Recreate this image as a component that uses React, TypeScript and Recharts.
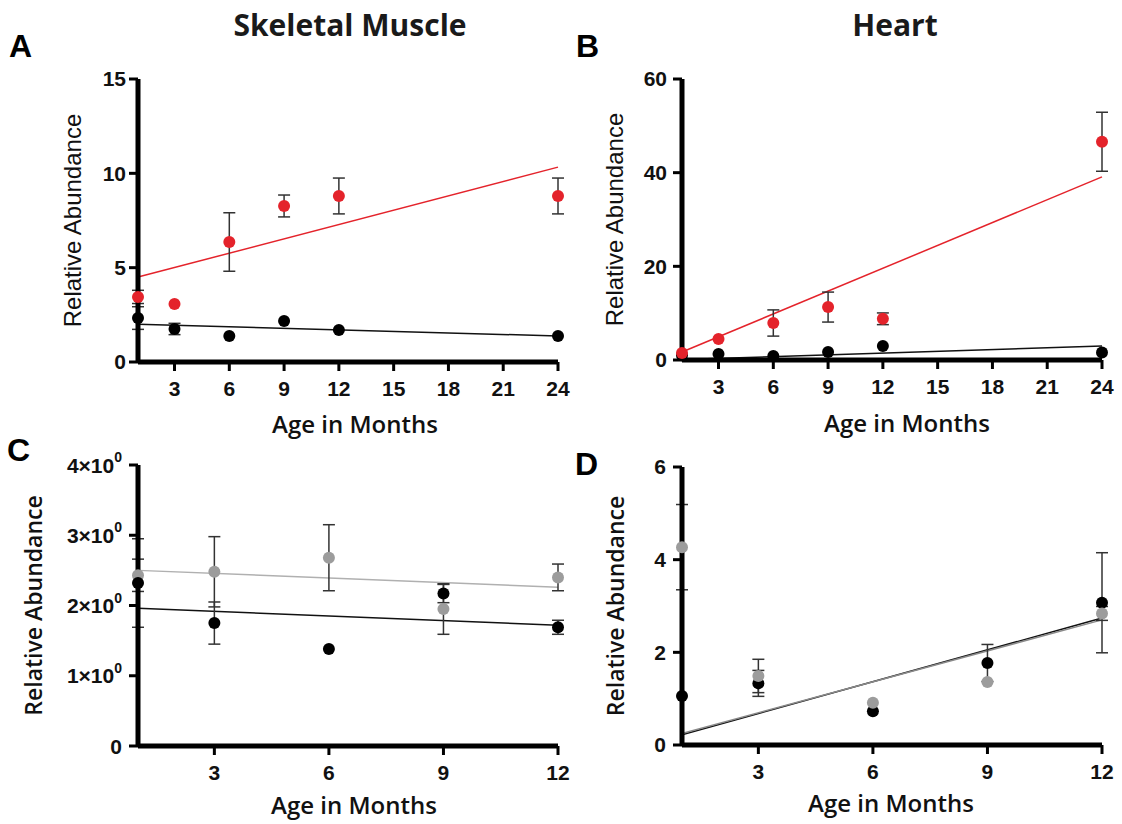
import React from 'react'
import { ComposedChart, Scatter, Line, XAxis, YAxis, ErrorBar } from 'recharts'

const RED = '#e4232b'
const GRAY = '#9c9c9c'
const ERR = '#333333'

// A: skeletal muscle, 1-24 months
const monthsA = [1, 3, 6, 9, 12, 24]
const redA = [3.45, 3.07, 6.36, 8.27, 8.8, 8.8]
const redErrA = [0.35, 0, 1.55, 0.58, 0.95, 0.95]
const blackA = [2.33, 1.75, 1.38, 2.17, 1.7, 1.38]
const blackErrA = [0.6, 0.3, 0, 0, 0, 0]
const fitRedA = [4.5, 10.33]
const fitBlackA = [2.0, 1.38]

// B: heart, 1-24 months
const monthsB = [1, 3, 6, 9, 12, 24]
const redB = [1.5, 4.5, 7.9, 11.3, 8.8, 46.6]
const redErrB = [0, 0, 2.8, 3.2, 1.25, 6.3]
const blackB = [1.0, 1.3, 0.85, 1.7, 3.0, 1.6]
const blackErrB = [0, 0, 0, 0, 0, 0]
const fitRedB = [1.7, 39.1]
const fitBlackB = [0.1, 3.0]

// C: skeletal muscle, 1-12 months
const monthsC = [1, 3, 6, 9, 12]
const grayC = [2.43, 2.48, 2.68, 1.95, 2.4]
const grayErrC = [0.23, 0.5, 0.47, 0.36, 0.19]
const blackC = [2.32, 1.75, 1.38, 2.17, 1.69]
const blackErrC = [0.63, 0.3, 0, 0.13, 0.1]
const fitGrayC = [2.5, 2.26]
const fitBlackC = [1.96, 1.72]

// D: heart, 1-12 months
const monthsD = [1, 3, 6, 9, 12]
const grayD = [4.27, 1.49, 0.91, 1.36, 2.84]
const grayErrD = [0.92, 0.36, 0, 0, 0.15]
const blackD = [1.06, 1.33, 0.73, 1.77, 3.07]
const blackErrD = [0, 0.28, 0, 0.4, 1.08]
const fitBlackD = [0.22, 2.74]
const fitGrayD = [0.25, 2.7]

const ticksLong = [3, 6, 9, 12, 15, 18, 21, 24]
const ticksShort = [3, 6, 9, 12]
const yTicksA = [0, 5, 10, 15]
const yTicksB = [0, 20, 40, 60]
const yTicksC = [0, 1, 2, 3, 4]
const yTicksD = [0, 2, 4, 6]

const points = (xs: number[], ys: number[], errs: number[]) =>
  xs.map((x, i) => ({ x, y: ys[i], err: errs[i] }))

const fit = (x0: number, x1: number, ys: number[]) => [
  { x: x0, y: ys[0] },
  { x: x1, y: ys[1] },
]

const tickFont = {
  fill: '#111',
  fontSize: 21,
  fontWeight: 700,
  fontFamily: '"Liberation Sans", Arial, sans-serif',
}

const dot = (color: string) => (p: any) => <circle cx={p.cx} cy={p.cy} r={6} fill={color} />

const SciTick = (props: any) => {
  const { x, y, payload } = props
  const v = payload.value
  return (
    <text x={x} y={y} textAnchor="end" dominantBaseline="central" style={tickFont}>
      {v === 0 ? (
        '0'
      ) : (
        <>
          {v}×10
          <tspan fontSize={14} dy={-8}>
            0
          </tspan>
        </>
      )}
    </text>
  )
}

type Series = { pts: { x: number; y: number; err: number }[]; color: string }
type FitLine = { pts: { x: number; y: number }[]; color: string }

interface PanelProps {
  left: number
  top: number
  width: number
  height: number
  margin: { top: number; right: number; bottom: number; left: number }
  yWidth: number
  xHeight: number
  xDomain: number[]
  xTicks: number[]
  yDomain: number[]
  yTicks: number[]
  series: Series[]
  fits: FitLine[]
  yLabelX: number
  yLabelFont: React.CSSProperties
  xLabelDx: number
  xLabelDy: number
  yTickMargin: number
  sci?: boolean
}

function Panel(p: PanelProps) {
  return (
    <div style={{ position: 'absolute', left: p.left, top: p.top }}>
      <ComposedChart width={p.width} height={p.height} margin={p.margin}>
        <XAxis
          type="number"
          dataKey="x"
          domain={p.xDomain}
          ticks={p.xTicks}
          interval={0}
          height={p.xHeight}
          tick={tickFont}
          tickSize={9}
          tickMargin={10}
          axisLine={{ stroke: '#000', strokeWidth: 5 }}
          tickLine={{ stroke: '#000', strokeWidth: 3 }}
          label={{
            content: ({ viewBox }: any) => (
              <text
                x={viewBox.x + viewBox.width / 2 + p.xLabelDx}
                y={viewBox.y + p.xLabelDy}
                textAnchor="middle"
                style={{
                  fontFamily: '"Open Sans", sans-serif',
                  fontWeight: 600,
                  fontSize: 24,
                  fill: '#111',
                }}
              >
                Age in Months
              </text>
            ),
          }}
        />
        <YAxis
          type="number"
          dataKey="y"
          domain={p.yDomain}
          ticks={p.yTicks}
          interval={0}
          width={p.yWidth}
          tick={p.sci ? <SciTick /> : tickFont}
          tickSize={9}
          tickMargin={p.yTickMargin}
          axisLine={{ stroke: '#000', strokeWidth: 5 }}
          tickLine={{ stroke: '#000', strokeWidth: 3 }}
          label={{
            content: ({ viewBox }: any) => {
              const cy = viewBox.y + viewBox.height / 2
              return (
                <text
                  x={p.yLabelX}
                  y={cy}
                  transform={`rotate(-90, ${p.yLabelX}, ${cy})`}
                  textAnchor="middle"
                  dominantBaseline="central"
                  style={{ fill: '#111', ...p.yLabelFont }}
                >
                  Relative Abundance
                </text>
              )
            },
          }}
        />
        {p.fits.map((f, i) => (
          <Line
            key={'f' + i}
            data={f.pts}
            dataKey="y"
            type="linear"
            stroke={f.color}
            strokeWidth={1.5}
            dot={false}
            activeDot={false}
            isAnimationActive={false}
          />
        ))}
        {p.series.map((s, i) => (
          <Scatter
            key={'s' + i}
            data={s.pts}
            dataKey="y"
            fill={s.color}
            shape={dot(s.color)}
            isAnimationActive={false}
          >
            <ErrorBar dataKey="err" direction="y" width={6} stroke={ERR} strokeWidth={1.5} />
          </Scatter>
        ))}
      </ComposedChart>
    </div>
  )
}

const arialLabel: React.CSSProperties = {
  fontFamily: '"Liberation Sans", Arial, sans-serif',
  fontSize: 24,
}
const openLabel: React.CSSProperties = {
  fontFamily: '"Open Sans", sans-serif',
  fontWeight: 600,
  fontSize: 23,
}

export default function App() {
  const letter = {
    fontFamily: '"Liberation Sans", Arial, sans-serif',
    fontWeight: 700,
    fontSize: 32,
    fill: '#000',
  }
  const title = {
    fontFamily: '"Open Sans", sans-serif',
    fontWeight: 700,
    fontSize: 30,
    fill: '#1a1a1a',
  }
  return (
    <div
      style={{
        position: 'absolute',
        left: 0,
        top: 0,
        width: 1122,
        height: 824,
        background: '#fff',
        overflow: 'hidden',
      }}
    >
      <Panel
        left={0}
        top={0}
        width={600}
        height={450}
        margin={{ top: 79, right: 42, bottom: 0, left: 0 }}
        yWidth={138}
        xHeight={88}
        xDomain={[1, 24]}
        xTicks={ticksLong}
        yDomain={[0, 15]}
        yTicks={yTicksA}
        yTickMargin={3}
        fits={[
          { pts: fit(1, 24, fitRedA), color: RED },
          { pts: fit(1, 24, fitBlackA), color: '#111' },
        ]}
        series={[
          { pts: points(monthsA, blackA, blackErrA), color: '#000' },
          { pts: points(monthsA, redA, redErrA), color: RED },
        ]}
        yLabelX={72}
        yLabelFont={arialLabel}
        xLabelDx={7}
        xLabelDy={71}
      />
      <Panel
        left={560}
        top={0}
        width={562}
        height={450}
        margin={{ top: 79, right: 20, bottom: 0, left: 0 }}
        yWidth={122}
        xHeight={90}
        xDomain={[1, 24]}
        xTicks={ticksLong}
        yDomain={[0, 60]}
        yTicks={yTicksB}
        yTickMargin={6}
        fits={[
          { pts: fit(1, 24, fitRedB), color: RED },
          { pts: fit(1, 24, fitBlackB), color: '#111' },
        ]}
        series={[
          { pts: points(monthsB, blackB, blackErrB), color: '#000' },
          { pts: points(monthsB, redB, redErrB), color: RED },
        ]}
        yLabelX={54}
        yLabelFont={arialLabel}
        xLabelDx={15}
        xLabelDy={72}
      />
      <Panel
        left={0}
        top={400}
        width={600}
        height={424}
        margin={{ top: 65, right: 42, bottom: 0, left: 0 }}
        yWidth={138}
        xHeight={78}
        xDomain={[1, 12]}
        xTicks={ticksShort}
        yDomain={[0, 4]}
        yTicks={yTicksC}
        yTickMargin={7}
        sci
        fits={[
          { pts: fit(1, 12, fitGrayC), color: '#b0b0b0' },
          { pts: fit(1, 12, fitBlackC), color: '#111' },
        ]}
        series={[
          { pts: points(monthsC, grayC, grayErrC), color: GRAY },
          { pts: points(monthsC, blackC, blackErrC), color: '#000' },
        ]}
        yLabelX={33}
        yLabelFont={openLabel}
        xLabelDx={6}
        xLabelDy={68}
      />
      <Panel
        left={560}
        top={400}
        width={562}
        height={424}
        margin={{ top: 67, right: 20, bottom: 0, left: 0 }}
        yWidth={122}
        xHeight={79}
        xDomain={[1, 12]}
        xTicks={ticksShort}
        yDomain={[0, 6]}
        yTicks={yTicksD}
        yTickMargin={7}
        fits={[
          { pts: fit(1, 12, fitBlackD), color: '#111' },
          { pts: fit(1, 12, fitGrayD), color: '#8a8a8a' },
        ]}
        series={[
          { pts: points(monthsD, blackD, blackErrD), color: '#000' },
          { pts: points(monthsD, grayD, grayErrD), color: GRAY },
        ]}
        yLabelX={55}
        yLabelFont={openLabel}
        xLabelDx={-1}
        xLabelDy={67}
      />
      <svg
        width={1122}
        height={824}
        style={{ position: 'absolute', left: 0, top: 0, pointerEvents: 'none' }}
      >
        <text x={350} y={36} textAnchor="middle" style={title}>
          Skeletal Muscle
        </text>
        <text x={895} y={36} textAnchor="middle" style={title}>
          Heart
        </text>
        <text x={9} y={57} style={letter}>
          A
        </text>
        <text x={576} y={57} style={letter}>
          B
        </text>
        <text x={7} y={461} style={letter}>
          C
        </text>
        <text x={575} y={475} style={letter}>
          D
        </text>
      </svg>
    </div>
  )
}
